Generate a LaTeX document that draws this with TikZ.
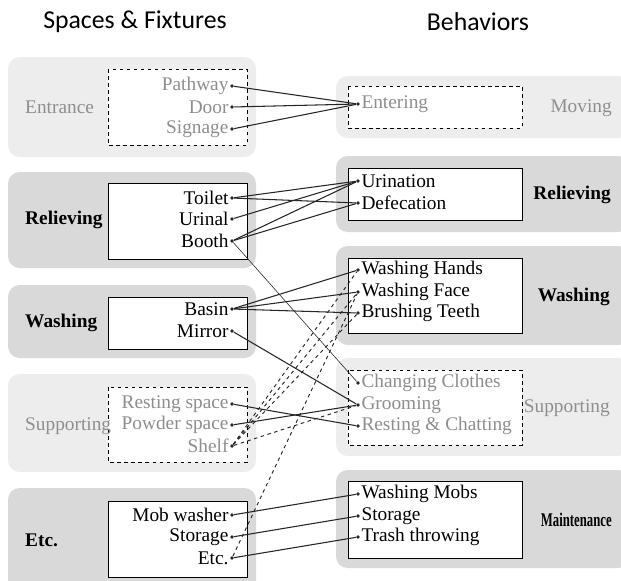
\documentclass[tikz,border=0pt]{standalone}
\usepackage{fontspec}
\usepackage{graphicx}
\setmainfont{Liberation Serif}
\newfontfamily\headfont{Carlito}
\usetikzlibrary{positioning}
\definecolor{bandlight}{HTML}{EDEDED}
\definecolor{banddark}{HTML}{D9D9D9}
\definecolor{greytext}{HTML}{8E8E8E}
\newcommand{\itemfont}{\fontsize{16.5}{19}\selectfont}

\begin{document}
\begin{tikzpicture}[x=0.03cm, y=-0.03cm]
    \tikzstyle{lightband}=[fill=bandlight, rounded corners=10pt]
    \tikzstyle{darkband}=[fill=banddark, rounded corners=10pt]
    \tikzstyle{solidbox}=[draw=black, fill=white, line width=0.8pt]
    \tikzstyle{dashbox}=[draw=black, fill=white, dashed, line width=0.8pt]
    \tikzstyle{dot}=[circle, fill=black!85, inner sep=0pt, minimum size=3.2pt]
    \tikzstyle{item}=[font=\itemfont, inner sep=1pt]
    \tikzstyle{faded}=[item, text=greytext]
    \tikzstyle{group}=[font=\itemfont\bfseries, inner sep=0pt]
    \tikzstyle{fadedgroup}=[font=\itemfont, text=greytext, inner sep=0pt]
    \tikzstyle{link}=[line width=0.9pt, black!85]
    \tikzstyle{thinlink}=[line width=0.5pt, black!85]
    \tikzstyle{dashlink}=[line width=0.8pt, black!85, dashed]

    \clip (0,0) rectangle (621,580);

    % headings
    \node[font=\headfont\fontsize{22}{25}\selectfont] (spaces) at (135,22) {Spaces \& Fixtures};
    \node[font=\headfont\fontsize{22}{25}\selectfont] (behaviors) at (478,22) {Behaviors};

    % bands, left side
    \fill[lightband] (8,57) rectangle (256,157);
    \fill[darkband] (8,172) rectangle (256,268);
    \fill[darkband] (8,285) rectangle (256,358);
    \fill[lightband] (8,374) rectangle (256,472);
    \fill[darkband] (8,488) rectangle (256,595);
    \draw[dashbox] (108,69) rectangle (247,145);
    \draw[solidbox] (108,183) rectangle (247,259);
    \draw[solidbox] (108,297) rectangle (247,349);
    \draw[dashbox] (108,387) rectangle (247,462);
    \draw[solidbox] (108,501) rectangle (247,577);

    % bands, right side
    \fill[lightband] (336,76) rectangle (630,138);
    \fill[darkband] (336,156) rectangle (630,232);
    \fill[darkband] (336,246) rectangle (630,345);
    \fill[lightband] (336,358) rectangle (630,456);
    \fill[darkband] (336,470) rectangle (630,568);
    \draw[dashbox] (348,86) rectangle (522,128);
    \draw[solidbox] (348,168) rectangle (522,220);
    \draw[solidbox] (348,258) rectangle (522,333);
    \draw[dashbox] (348,370) rectangle (522,445);
    \draw[solidbox] (348,481) rectangle (522,558);

    % group names
    \node[fadedgroup, anchor=west] (entrance) at (25,107) {Entrance};
    \node[group, anchor=west] (relievingL) at (25,220) {Relieving};
    \node[group, anchor=west] (washingL) at (25,323) {Washing};
    \node[fadedgroup, anchor=west] (supportingL) at (25,426) {Supporting};
    \node[group, anchor=west] (etcL) at (25,540) {Etc.};
    \node[fadedgroup, anchor=east] (moving) at (612,108) {Moving};
    \node[group, anchor=east] (relievingR) at (611,195) {Relieving};
    \node[group, anchor=east] (washingR) at (610,297) {Washing};
    \node[fadedgroup, anchor=east] (supportingR) at (610,408) {Supporting};
    \node[group, anchor=east] (maintenance) at (612,520) {\scalebox{0.66}[1]{Maintenance}};

    % spaces and fixtures
    \node[dot, label={[faded]left:Pathway}] (pathway) at (232,86) {};
    \node[dot, label={[faded]left:Door}] (door) at (232,107) {};
    \node[dot, label={[faded]left:Signage}] (signage) at (232,129) {};
    \node[dot, label={[item]left:Toilet}] (toilet) at (232,198) {};
    \node[dot, label={[item]left:Urinal}] (urinal) at (232,219) {};
    \node[dot, label={[item]left:Booth}] (booth) at (232,241) {};
    \node[dot, label={[item]left:Basin}] (basin) at (232,309) {};
    \node[dot, label={[item]left:Mirror}] (mirror) at (232,331) {};
    \node[dot, label={[faded]left:Resting space}] (resting) at (232,404) {};
    \node[dot, label={[faded]left:Powder space}] (powder) at (232,425) {};
    \node[dot, label={[faded]left:Shelf}] (shelf) at (232,446) {};
    \node[dot, label={[item]left:Mob washer}] (mobwasher) at (232,515) {};
    \node[dot, label={[item]left:Storage}] (storageL) at (232,537) {};
    \node[dot, label={[item]left:Etc.}] (etc) at (232,558) {};

    % behaviors
    \node[dot, label={[faded]right:Entering}] (entering) at (358,104) {};
    \node[dot, label={[item]right:Urination}] (urination) at (358,181) {};
    \node[dot, label={[item]right:Defecation}] (defecation) at (358,203) {};
    \node[dot, label={[item]right:Washing Hands}] (hands) at (358,270) {};
    \node[dot, label={[item]right:Washing Face}] (face) at (358,292) {};
    \node[dot, label={[item]right:Brushing Teeth}] (teeth) at (358,313) {};
    \node[dot, label={[faded]right:Changing Clothes}] (changing) at (358,383) {};
    \node[dot, label={[faded]right:Grooming}] (grooming) at (358,405) {};
    \node[dot, label={[faded]right:Resting \& Chatting}] (chatting) at (358,426) {};
    \node[dot, label={[item]right:Washing Mobs}] (mobs) at (358,494) {};
    \node[dot, label={[item]right:Storage}] (storageR) at (358,516) {};
    \node[dot, label={[item]right:Trash throwing}] (trash) at (358,537) {};

    % links
    \draw[link] (pathway) -- (entering);
    \draw[link] (door) -- (entering);
    \draw[link] (signage) -- (entering);
    \draw[link] (toilet) -- (urination);
    \draw[link] (toilet) -- (defecation);
    \draw[link] (urinal) -- (urination);
    \draw[link] (booth) -- (urination);
    \draw[link] (booth) -- (defecation);
    \draw[thinlink] (booth) -- (changing);
    \draw[link] (basin) -- (hands);
    \draw[link] (basin) -- (face);
    \draw[link] (basin) -- (teeth);
    \draw[link] (mirror) -- (grooming);
    \draw[link] (resting) -- (chatting);
    \draw[link] (powder) -- (grooming);
    \draw[dashlink] (shelf) -- (grooming);
    \draw[dashlink] (shelf) -- (hands);
    \draw[dashlink] (shelf) -- (face);
    \draw[dashlink] (shelf) -- (teeth);
    \draw[dashlink] (etc) -- (face);
    \draw[link] (mobwasher) -- (mobs);
    \draw[link] (storageL) -- (storageR);
    \draw[link] (etc) -- (trash);
\end{tikzpicture}
\end{document}
